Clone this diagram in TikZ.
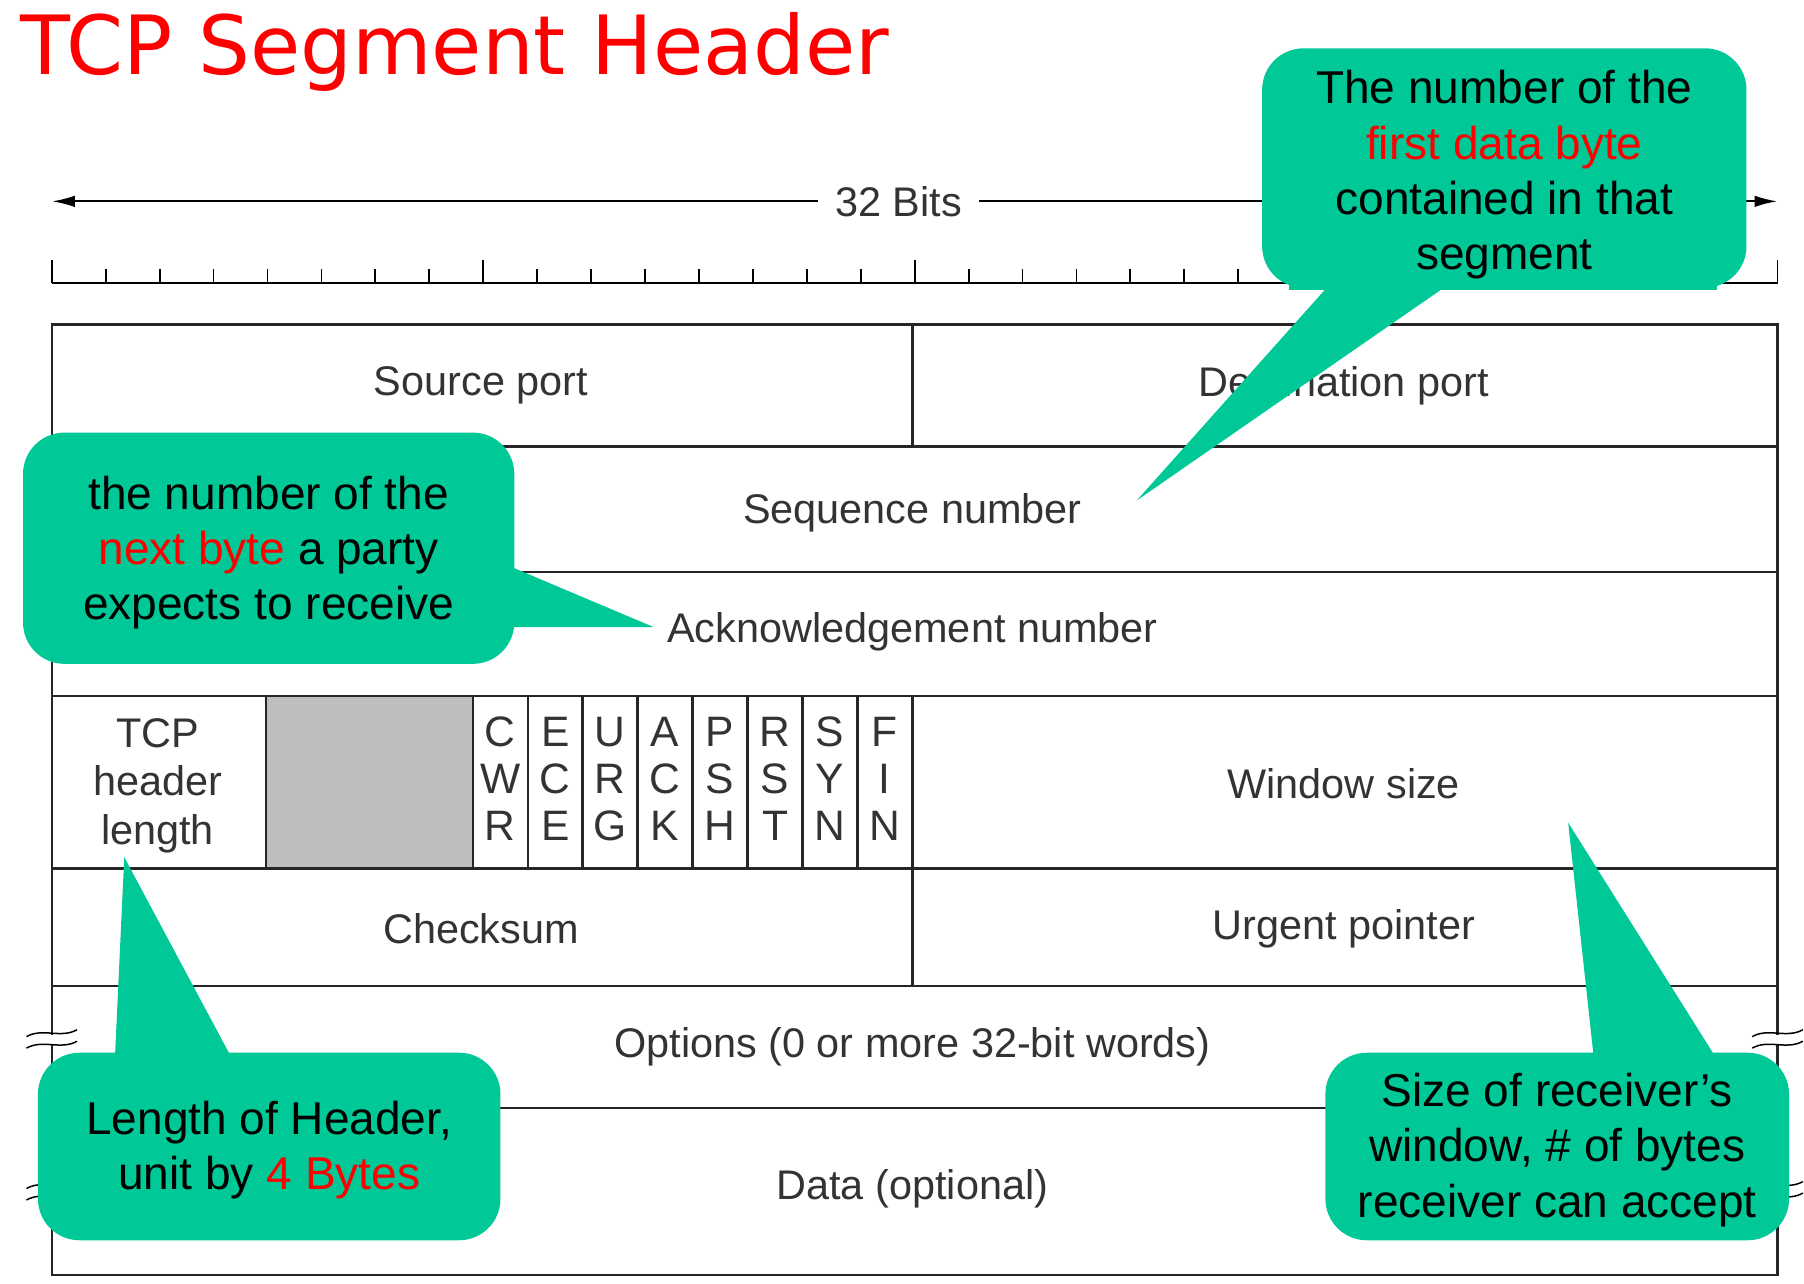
\documentclass[tikz,border=0pt]{standalone}
\usepackage{fontspec}
\setmainfont{Liberation Sans}
\newfontfamily\titlefont{DejaVu Sans}
\usetikzlibrary{arrows.meta}
\definecolor{bubblegreen}{RGB}{0,201,151}
\definecolor{fieldgray}{RGB}{51,51,51}
\definecolor{resgray}{RGB}{190,190,190}
\begin{document}
\begin{tikzpicture}[x=1pt, y=-1pt,
    frame/.style={line width=2.2pt, draw=black!85},
    field/.style={text=fieldgray, font=\fontsize{36}{42}\selectfont, inner sep=0pt, yshift=-3pt},
    flag/.style={text=fieldgray, font=\fontsize{37}{41}\selectfont, align=center, inner sep=0pt},
    bubble/.style={fill=bubblegreen, rounded corners=36pt, inner sep=0pt},
    note/.style={align=center, inner sep=0pt, font=\fontsize{40}{48}\selectfont},
    pointer/.style={fill=bubblegreen}]
    \useasboundingbox (0,0) rectangle (1568,1116);

    \node[anchor=base west, text=red, inner sep=0pt,
        font=\titlefont\fontsize{71}{80}\selectfont] (title) at (18,65) {TCP Segment Header};

    % Width arrow and ruler
    \coordinate (bitsL) at (45,175);
    \coordinate (bitsR) at (1545,175);
    \draw[line width=2pt, {Latex[length=20pt,width=10pt]}-{Latex[length=20pt,width=10pt]}] (bitsL) -- (bitsR);
    \node[fill=white, text=fieldgray, font=\fontsize{36}{40}\selectfont, inner xsep=15pt, inner ysep=4pt] (bits) at (781,175) {32 Bits};

    \draw[line width=2pt] (45,246) -- (1545,246);
    \foreach \b in {0,...,32}{
        \pgfmathsetmacro{\ticktop}{ifthenelse(mod(\b,8)==0,226,234)}
        \draw[line width=1.6pt] (45+46.875*\b,246) -- (45+46.875*\b,\ticktop);
    }

    % Header rows
    \draw[frame] (45,282) rectangle (1545,1108);
    \foreach \y in {388,497,605,755,857,963}
        \draw[frame] (45,\y) -- (1545,\y);
    \draw[frame] (793,282) -- (793,388);
    \draw[frame] (793,755) -- (793,857);
    \filldraw[frame, fill=resgray] (231,605) rectangle (411,755);
    \foreach \i in {0,...,8}
        \draw[frame] (411+47.75*\i,605) -- (411+47.75*\i,755);

    % Break marks
    \foreach \x/\y in {45/898, 45/1030, 1545/898, 1545/1030}{
        \fill[white] (\x-6,\y+2) rectangle (\x+6,\y+10);
        \draw[line width=1.3pt] (\x-22,\y+3) .. controls (\x-8,\y-5) and (\x+8,\y+5) .. (\x+22,\y-3);
        \draw[line width=1.3pt] (\x-22,\y+13) .. controls (\x-8,\y+5) and (\x+8,\y+15) .. (\x+22,\y+7);
    }

    % Fields
    \node[field] (srcport) at (418,332) {Source port};
    \node[field] (dstport) at (1168,332) {Destination port};
    \node[field] (seqnum) at (793,443) {Sequence number};
    \node[field] (acknum) at (793,546) {Acknowledgement number};
    \node[field, align=center] (hdrlen) at (137,680) {TCP\\header\\length};
    \foreach \a/\b/\c [count=\i from 0] in {C/W/R,E/C/E,U/R/G,A/C/K,P/S/H,R/S/T,S/Y/N,F/I/N}
        \node[flag] (flag\i) at (434.875+47.75*\i,677) {\a\\\b\\\c};
    \node[field] (winsize) at (1168,678) {Window size};
    \node[field] (checksum) at (418,804) {Checksum};
    \node[field] (urgptr) at (1168,804) {Urgent pointer};
    \node[field] (options) at (793,907) {Options (0 or more 32-bit words)};
    \node[field] (data) at (793,1030) {Data (optional)};

    % Callouts
    \fill[bubblegreen] (1120,230) rectangle (1492,252);
    \node[bubble, minimum width=421pt, minimum height=208pt] (seqnote) at (1307.5,146) {};
    \coordinate (seqtip) at (988,435);
    \fill[pointer] (1155,248) -- (seqtip) -- (1258,248) -- cycle;
    \node[note, yshift=-6pt] (seqtext) at (seqnote) 
        {The number of the\\\textcolor{red}{first data byte}\\contained in that\\segment};

    \node[bubble, minimum width=427pt, minimum height=201pt] (acknote) at (233.5,476.5) {};
    \coordinate (acktip) at (568,545);
    \fill[pointer] (445,493) -- (acktip) -- (445,545) -- cycle;
    \node[note, yshift=-4pt] (acktext) at (acknote)
        {the number of the\\\textcolor{red}{next byte} a party\\expects to receive};

    \node[bubble, minimum width=402pt, minimum height=163pt] (lennote) at (234,996.5) {};
    \coordinate (lentip) at (108,745);
    \fill[pointer] (100,917) -- (lentip) -- (200,917) -- cycle;
    \node[note, yshift=-3pt] (lentext) at (lennote)
        {Length of Header,\\unit by \textcolor{red}{4 Bytes}};

    \node[bubble, minimum width=403pt, minimum height=163pt] (winnote) at (1353.5,996.5) {};
    \coordinate (wintip) at (1363,715);
    \fill[pointer] (1385,917) -- (wintip) -- (1490,917) -- cycle;
    \node[note, yshift=-3pt] (wintext) at (winnote)
        {Size of receiver’s\\window, \# of bytes\\receiver can accept};
\end{tikzpicture}
\end{document}
